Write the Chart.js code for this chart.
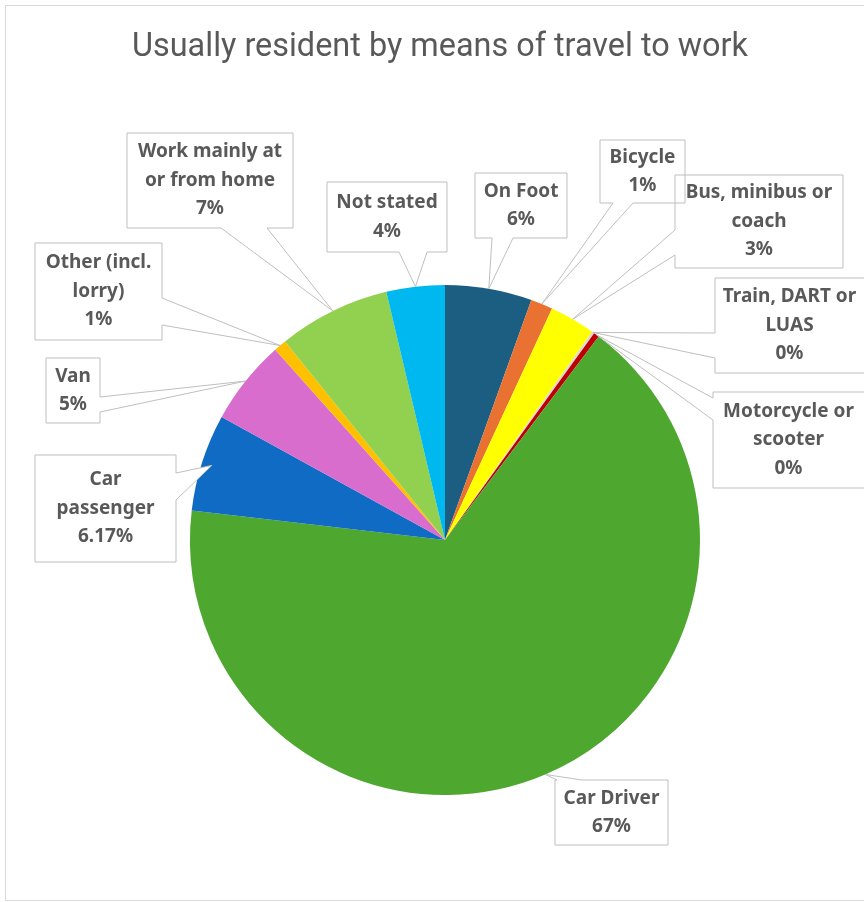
<!DOCTYPE html>
<html>
<head>
<meta charset="utf-8">
<script src="https://cdn.jsdelivr.net/npm/chart.js@4.4.1/dist/chart.umd.min.js"></script>
<style>
  html, body { margin: 0; padding: 0; background: #fff; }
  #wrap { position: relative; width: 864px; height: 902px; }
</style>
</head>
<body>
<div id="wrap"><canvas id="pie"></canvas></div>
<script>
// data (clockwise from 12 o'clock)
const title = 'Usually resident by means of travel to work';
const categories = [
    ['On Foot'], ['Bicycle'], ['Bus, minibus or', 'coach'], ['Train, DART or', 'LUAS'],
    ['Motorcycle or', 'scooter'], ['Car Driver'], ['Car', 'passenger'], ['Van'],
    ['Other (incl.', 'lorry)'], ['Work mainly at', 'or from home'], ['Not stated']
];
const shares = [5.5, 1.4, 2.9, 0.15, 0.35, 66.6, 6.17, 5.4, 0.8, 7.1, 3.7];
const pctLabels = ['6%', '1%', '3%', '0%', '0%', '67%', '6.17%', '5%', '1%', '7%', '4%'];
const sliceColors = ['#1B5E82', '#E97132', '#FFFF00', '#D9D9D9', '#C00000', '#4EA72E',
    '#0F6BC4', '#D86DCD', '#FFC000', '#92D050', '#00B8F0'];

// callout boxes: [x0, y0, x1, y1], the side the pointer leaves from and its base
const callouts = [
    { box: [475, 173, 567, 238], side: 'bottom', base: [492, 513] },
    { box: [600, 140, 685, 203], side: 'bottom', base: [613, 633] },
    { box: [675, 175, 843, 268], side: 'left', base: [230, 255] },
    { box: [715, 278, 866, 373], side: 'left', base: [333, 358] },
    { box: [713, 392, 866, 488], side: 'left', base: [398, 420] },
    { box: [555, 780, 668, 845], side: 'top', base: [557, 582] },
    { box: [35, 455, 176, 562], side: 'right', base: [473, 500], r: 0.96 },
    { box: [46, 358, 100, 423], side: 'right', base: [397, 412] },
    { box: [35, 243, 162, 340], side: 'right', base: [298, 325] },
    { box: [127, 133, 293, 228], side: 'bottom', base: [221, 267] },
    { box: [327, 182, 447, 252], side: 'bottom', base: [399, 427] }
];

const LINE_GAP = 28.5;

const calloutPath = (ctx, c, tip) => {
    const [x0, y0, x1, y1] = c.box;
    const [a, b] = c.base;
    ctx.beginPath();
    ctx.moveTo(x0, y0);
    if (c.side === 'top') { ctx.lineTo(a, y0); ctx.lineTo(tip.x, tip.y); ctx.lineTo(b, y0); }
    ctx.lineTo(x1, y0);
    if (c.side === 'right') { ctx.lineTo(x1, a); ctx.lineTo(tip.x, tip.y); ctx.lineTo(x1, b); }
    ctx.lineTo(x1, y1);
    if (c.side === 'bottom') { ctx.lineTo(b, y1); ctx.lineTo(tip.x, tip.y); ctx.lineTo(a, y1); }
    ctx.lineTo(x0, y1);
    if (c.side === 'left') { ctx.lineTo(x0, b); ctx.lineTo(tip.x, tip.y); ctx.lineTo(x0, a); }
    ctx.closePath();
};

const calloutPlugin = {
    id: 'callouts',
    beforeDraw(chart) {
        const ctx = chart.ctx;
        ctx.save();
        ctx.strokeStyle = '#D9D9D9';
        ctx.lineWidth = 1;
        ctx.strokeRect(5.5, 5.5, 880, 895);
        // title, squeezed a little like the narrow original face
        ctx.fillStyle = '#595959';
        ctx.font = '34px Roboto';
        ctx.textAlign = 'center';
        ctx.textBaseline = 'middle';
        ctx.fillText(title, 440, 47, 616);
        ctx.restore();
    },
    afterDraw(chart) {
        const ctx = chart.ctx;
        const arcs = chart.getDatasetMeta(0).data;
        const tips = arcs.map((arc, i) => {
            const p = arc.getProps(['x', 'y', 'startAngle', 'endAngle', 'outerRadius'], true);
            const mid = (p.startAngle + p.endAngle) / 2;
            const r = p.outerRadius * (callouts[i].r || 1);
            return { x: p.x + Math.cos(mid) * r, y: p.y + Math.sin(mid) * r };
        });
        ctx.save();
        ctx.lineWidth = 1;
        ctx.fillStyle = '#FFFFFF';
        callouts.forEach((c, i) => { calloutPath(ctx, c, tips[i]); ctx.fill(); });
        ctx.strokeStyle = '#BFBFBF';
        callouts.forEach((c, i) => { calloutPath(ctx, c, tips[i]); ctx.stroke(); });

        ctx.fillStyle = '#595959';
        ctx.font = 'bold 19px "Noto Sans"';
        ctx.textAlign = 'center';
        ctx.textBaseline = 'middle';
        callouts.forEach((c, i) => {
            const lines = [...categories[i], pctLabels[i]];
            const [x0, y0, x1, y1] = c.box;
            const cx = (x0 + Math.min(x1, 864)) / 2;
            const cy = (y0 + y1) / 2;
            const top = cy - (lines.length - 1) * LINE_GAP / 2;
            lines.forEach((t, k) => ctx.fillText(t, cx, top + k * LINE_GAP));
        });
        ctx.restore();
    }
};

new Chart(document.getElementById('pie'), {
    type: 'pie',
    data: {
        labels: categories,
        datasets: [{ data: shares, backgroundColor: sliceColors, borderWidth: 0 }]
    },
    options: {
        responsive: true,
        maintainAspectRatio: false,
        animation: false,
        layout: { padding: { left: 190, right: 164, top: 285, bottom: 107 } },
        plugins: {
            legend: { display: false },
            tooltip: { enabled: false },
            title: { display: false }
        }
    },
    plugins: [calloutPlugin]
});
</script>
</body>
</html>
